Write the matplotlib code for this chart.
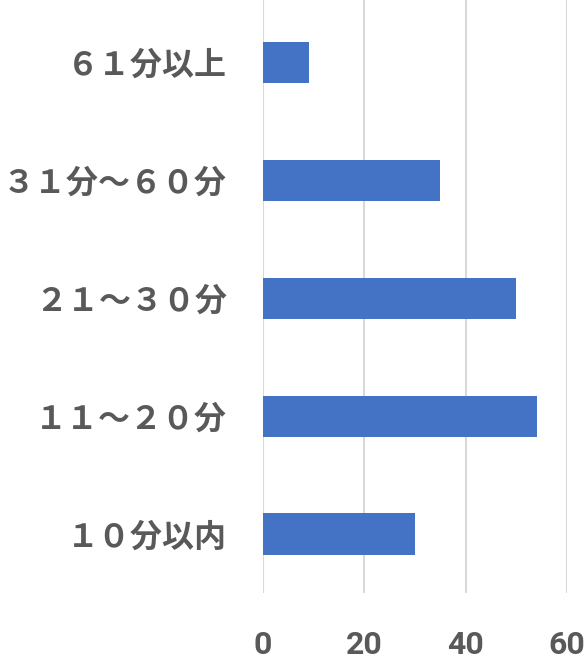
import matplotlib.pyplot as plt

categories = ['１０分以内', '１１～２０分', '２１～３０分', '３１分～６０分', '６１分以上']
values = [30, 54, 50, 35, 9]
xticks = [0, 20, 40, 60]

fig = plt.figure(figsize=(5.87, 6.59), dpi=100)
ax = fig.add_axes([263/587, 66/659, 304/587, 593/659])

ax.barh(range(len(categories)), values, height=0.35, color='#4472c4', zorder=3)

ax.set_xlim(0, 60)
ax.set_ylim(-0.5, 4.53)
ax.set_xticks(xticks)
ax.set_yticks(range(len(categories)))
ax.set_yticklabels(categories, fontfamily=['Noto Sans CJK JP', 'DejaVu Sans'],
                   fontweight='bold', fontsize=23, color='#595959')
for lab in ax.get_xticklabels():
    lab.set_fontfamily(['Liberation Sans Narrow', 'Roboto'])
    lab.set_fontweight('bold')
    lab.set_fontsize(23)
    lab.set_color('#595959')
ax.tick_params(axis='x', length=0, pad=27)
ax.tick_params(axis='y', length=0, pad=26)

ax.grid(axis='x', color='#d9d9d9', linewidth=1.5, zorder=0)
for s in ax.spines.values():
    s.set_visible(False)

fig.savefig('out.png', dpi=100)
